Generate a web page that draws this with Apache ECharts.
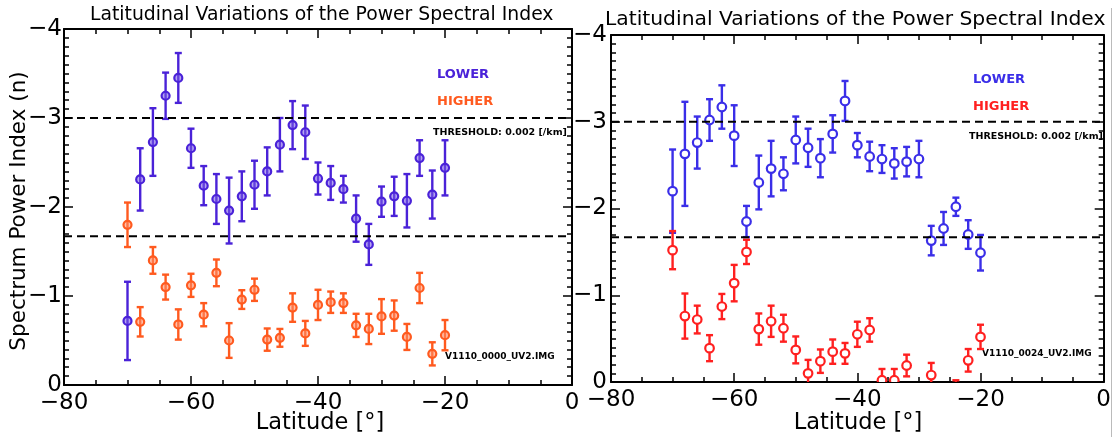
<!DOCTYPE html>
<html>
<head>
<meta charset="utf-8">
<script src="https://cdn.jsdelivr.net/npm/echarts@6/dist/echarts.min.js"></script>
<style>
  html, body { margin: 0; padding: 0; background: #fff; }
  #main { width: 1114px; height: 437px; }
</style>
</head>
<body>
<div id="main"></div>
<script>
// latitudes (deg)
var leftLat = [-70,-68,-66,-64,-62,-60,-58,-56,-54,-52,-50,-48,-46,-44,-42,-40,-38,-36,-34,-32,-30,-28,-26,-24,-22,-20];
// left panel, LOWER (blue)
var leftLowerVal = [-0.72,-2.31,-2.73,-3.25,-3.45,-2.66,-2.24,-2.09,-1.96,-2.12,-2.25,-2.40,-2.70,-2.92,-2.84,-2.32,-2.27,-2.20,-1.87,-1.58,-2.06,-2.12,-2.07,-2.55,-2.14,-2.44];
var leftLowerErr = [0.44,0.35,0.38,0.26,0.28,0.22,0.22,0.28,0.37,0.28,0.27,0.27,0.30,0.27,0.30,0.18,0.19,0.15,0.26,0.23,0.17,0.22,0.30,0.20,0.27,0.31];
// left panel, HIGHER (orange)
var leftHigherVal = [-1.80,-0.71,-1.40,-1.10,-0.68,-1.12,-0.79,-1.26,-0.50,-0.96,-1.07,-0.51,-0.53,-0.87,-0.58,-0.90,-0.93,-0.92,-0.67,-0.63,-0.77,-0.78,-0.54,-1.09,-0.35,-0.56];
var leftHigherErr = [0.25,0.165,0.15,0.14,0.17,0.13,0.13,0.15,0.195,0.105,0.125,0.125,0.10,0.16,0.14,0.17,0.12,0.11,0.13,0.17,0.195,0.17,0.146,0.17,0.13,0.17];

var rightLat = [-70,-68,-66,-64,-62,-60,-58,-56,-54,-52,-50,-48,-46,-44,-42,-40,-38,-36,-34,-32,-30,-28,-26,-24,-22,-20];
// right panel, LOWER (blue)
var rightLowerVal = [-2.20,-2.63,-2.76,-3.02,-3.17,-2.84,-1.85,-2.30,-2.46,-2.40,-2.79,-2.70,-2.58,-2.86,-3.24,-2.73,-2.60,-2.57,-2.52,-2.54,-2.57,-1.63,-1.77,-2.02,-1.70,-1.49];
var rightLowerErr = [0.48,0.60,0.30,0.24,0.25,0.35,0.18,0.31,0.32,0.19,0.27,0.22,0.22,0.215,0.23,0.14,0.17,0.16,0.175,0.17,0.21,0.17,0.19,0.105,0.165,0.205];
// right panel, HIGHER (red)
var rightHigherLat = [-70,-68,-66,-64,-62,-60,-58,-56,-54,-52,-50,-48,-46,-44,-42,-40,-38,-36,-34,-32,-28,-24,-22,-20];
var rightHigherVal = [-1.52,-0.76,-0.72,-0.39,-0.87,-1.14,-1.50,-0.61,-0.70,-0.62,-0.37,-0.10,-0.24,-0.35,-0.33,-0.55,-0.60,-0.02,-0.02,-0.19,-0.08,0.10,-0.25,-0.52];
var rightHigherErr = [0.22,0.26,0.16,0.15,0.145,0.21,0.14,0.18,0.18,0.155,0.155,0.155,0.135,0.14,0.12,0.145,0.135,0.13,0.13,0.125,0.14,0.12,0.13,0.14];

var thresholds = [-3.0, -1.67];

var FONT = "DejaVu Sans";

function pack(lat, val, err) {
    var out = [];
    for (var i = 0; i < lat.length; i++) out.push([lat[i], val[i], err[i]]);
    return out;
}

function minus(v) {
    return String(v).replace('-', '\u2212');
}

function errRender(color, fill, r) {
    return function (params, api) {
        var x = api.value(0), y = api.value(1), e = api.value(2);
        var c = api.coord([x, y]);
        var t = api.coord([x, y - e]);
        var b = api.coord([x, y + e]);
        var st = { stroke: color, lineWidth: 2.4 };
        return {
            type: 'group',
            children: [
                { type: 'line', shape: { x1: c[0], y1: t[1], x2: c[0], y2: b[1] }, style: st },
                { type: 'line', shape: { x1: c[0] - 3.5, y1: t[1], x2: c[0] + 3.5, y2: t[1] }, style: st },
                { type: 'line', shape: { x1: c[0] - 3.5, y1: b[1], x2: c[0] + 3.5, y2: b[1] }, style: st },
                { type: 'circle', shape: { cx: c[0], cy: c[1], r: r }, style: { stroke: color, lineWidth: 2.2, fill: fill } }
            ]
        };
    };
}

function xAxes(grid) {
    var base = {
        gridIndex: grid, type: 'value', min: -80, max: 0, interval: 20,
        axisLine: { show: true, onZero: false, lineStyle: { color: '#000', width: 2 } },
        axisTick: { inside: true, length: 9, lineStyle: { color: '#000', width: 1.5 } },
        minorTick: { show: true, splitNumber: 4, length: 5, lineStyle: { color: '#000', width: 1.5 } },
        splitLine: { show: false }
    };
    var bottom = Object.assign({}, base, {
        position: 'bottom',
        axisLabel: { fontFamily: FONT, fontSize: 23, color: '#000', margin: 7, formatter: minus }
    });
    var top = Object.assign({}, base, { position: 'top', axisLabel: { show: false } });
    return [bottom, top];
}

function yAxes(grid, margin) {
    var base = {
        gridIndex: grid, type: 'value', min: -4, max: 0, interval: 1, inverse: true,
        axisLine: { show: true, onZero: false, lineStyle: { color: '#000', width: 2 } },
        axisTick: { inside: true, length: 9, lineStyle: { color: '#000', width: 1.5 } },
        minorTick: { show: true, splitNumber: 10, length: 5, lineStyle: { color: '#000', width: 1.5 } },
        splitLine: { show: false }
    };
    var left = Object.assign({}, base, {
        position: 'left',
        axisLabel: { fontFamily: FONT, fontSize: 23, color: '#000', margin: margin, formatter: minus }
    });
    var right = Object.assign({}, base, { position: 'right', axisLabel: { show: false } });
    return [left, right];
}

function thresholdSeries(xi, yi) {
    var list = [];
    for (var i = 0; i < thresholds.length; i++) {
        list.push({
            type: 'line', xAxisIndex: xi, yAxisIndex: yi, symbol: 'none', silent: true,
            data: [[-80, thresholds[i]], [0, thresholds[i]]],
            lineStyle: { color: '#000', width: 2, type: [8, 5] }
        });
    }
    return list;
}

function errSeries(xi, yi, data, color, fill, r) {
    return {
        type: 'custom', xAxisIndex: xi, yAxisIndex: yi, clip: true,
        encode: { x: 0, y: 1 },
        data: data,
        renderItem: errRender(color, fill, r)
    };
}

var C_LB = '#4a22d8', C_LO = '#ff5a1f', C_RB = '#3a2ee8', C_RR = '#ff2020';

function txt(x, y, s, size, color, bold, align) {
    return {
        type: 'text', x: x, y: y,
        style: {
            text: s, fontFamily: FONT, fontSize: size, fill: color,
            fontWeight: bold ? 'bold' : 'normal',
            textAlign: align || 'left', textVerticalAlign: 'middle'
        }
    };
}

var chart = echarts.init(document.getElementById('main'));
var option = {
    animation: false,
    backgroundColor: '#fff',
    grid: [
        { left: 64, right: 542, top: 29, bottom: 52 },
        { left: 611, right: 7, top: 35, bottom: 55 }
    ],
    xAxis: xAxes(0).concat(xAxes(1)),
    yAxis: yAxes(0, 2).concat(yAxes(1, 4)),
    series: [].concat(
        thresholdSeries(0, 0),
        [errSeries(0, 0, pack(leftLat, leftLowerVal, leftLowerErr), C_LB, 'rgba(120,90,230,0.55)', 4)],
        [errSeries(0, 0, pack(leftLat, leftHigherVal, leftHigherErr), C_LO, 'rgba(255,140,100,0.55)', 4)],
        thresholdSeries(2, 2),
        [errSeries(2, 2, pack(rightLat, rightLowerVal, rightLowerErr), C_RB, '#fff', 4.3)],
        [errSeries(2, 2, pack(rightHigherLat, rightHigherVal, rightHigherErr), C_RR, '#fff', 4.3)]
    ),
    graphic: [
        txt(90, 15, 'Latitudinal Variations of the Power Spectral Index', 18.8, '#000', false),
        txt(605, 20, 'Latitudinal Variations of the Power Spectral Index', 20.3, '#000', false),
        {
            type: 'text', x: 19, y: 211, rotation: Math.PI / 2,
            style: { text: 'Spectrum Power Index (n)', fontFamily: FONT, fontSize: 21.5, fill: '#000',
                     textAlign: 'center', textVerticalAlign: 'middle' }
        },
        txt(320, 423, 'Latitude [\u00b0]', 22.5, '#000', false, 'center'),
        txt(858, 423, 'Latitude [\u00b0]', 22.5, '#000', false, 'center'),
        txt(437, 75, 'LOWER', 13, C_LB, true),
        txt(437, 102, 'HIGHER', 13, C_LO, true),
        txt(433, 133, 'THRESHOLD: 0.002 [/km]', 9.5, '#000', true),
        txt(445, 357, 'V1110_0000_UV2.IMG', 9, '#000', true),
        txt(973, 80, 'LOWER', 13, C_RB, true),
        txt(973, 107, 'HIGHER', 13, C_RR, true),
        txt(969, 137, 'THRESHOLD: 0.002 [/km]', 9.5, '#000', true),
        txt(982, 354, 'V1110_0024_UV2.IMG', 9, '#000', true),
        { type: 'line', shape: { x1: 1111.5, y1: 8, x2: 1111.5, y2: 437 }, style: { stroke: '#bbb', lineWidth: 1 } }
    ]
};
chart.setOption(option);
</script>
</body>
</html>
